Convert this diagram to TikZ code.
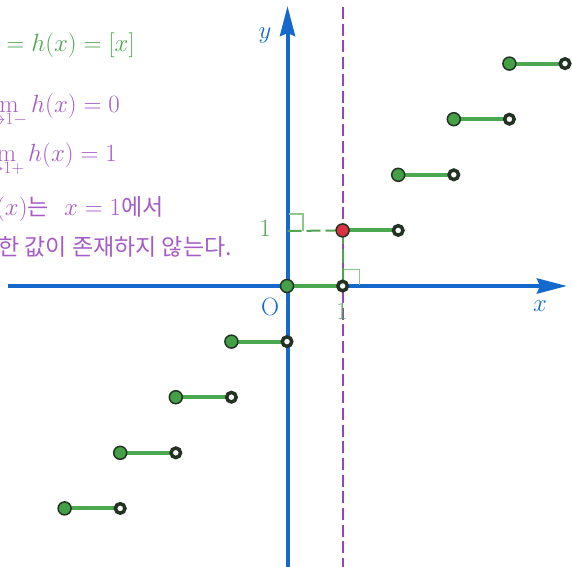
\documentclass[tikz,border=0pt]{standalone}
\usepackage{fontspec}
\newfontfamily\krfont{Noto Sans CJK KR}
\usetikzlibrary{arrows.meta}
\definecolor{axisblue}{RGB}{21,105,205}
\definecolor{ptgreen}{RGB}{67,160,71}
\definecolor{seggreen}{RGB}{76,168,80}
\definecolor{txtgreen}{RGB}{80,165,80}
\definecolor{txtpurple}{RGB}{165,92,198}
\definecolor{linepurple}{RGB}{150,70,185}
\definecolor{ringdark}{RGB}{35,50,35}
\definecolor{markgreen}{RGB}{140,200,140}
\definecolor{ptred}{RGB}{220,50,65}
\newcommand{\kr}[1]{{\krfont\fontsize{23}{27}\selectfont #1}}
\begin{document}
\begin{tikzpicture}[x=1pt,y=-1pt,
  axisline/.style={draw=axisblue,line width=4pt,-{Stealth[length=30pt,width=15pt,inset=3pt]}},
  closedpt/.style={circle,fill=ptgreen,draw=ringdark,line width=1.5pt,minimum size=13pt,inner sep=0pt},
  redpt/.style={closedpt,fill=ptred},
  openpt/.style={circle,fill=white,draw=ringdark,line width=3.5pt,minimum size=9.5pt,inner sep=0pt},
  seg/.style={draw=seggreen,line width=4pt},
  guide/.style={draw=txtgreen,line width=2pt,dash pattern=on 14pt off 5pt},
  vline/.style={draw=linepurple,line width=2pt,dash pattern=on 12pt off 4.7pt},
  rmark/.style={draw=markgreen,line width=1.5pt},
  lbl/.style={font=\fontsize{25}{30}\selectfont,inner sep=0pt},
]
\useasboundingbox (0,0) rectangle (572,566);
% axes
\coordinate (xs) at (8,286);
\coordinate (xe) at (567,286);
\coordinate (ys) at (287.5,570);
\coordinate (ye) at (287.5,6);
\draw[axisline] (xs) -- (xe);
\draw[axisline] (ys) -- (ye);
% vertical dashed line x=1
\coordinate (vt) at (343,7);
\coordinate (vb) at (343,570);
\draw[vline] (vt) -- (vb);
% step points
\foreach \k [count=\i] in {-4,...,4}{
  \pgfmathsetmacro\xa{287+55.6*\k}
  \pgfmathsetmacro\xb{287+55.6*(\k+1)}
  \pgfmathsetmacro\yy{286-55.6*\k}
  \coordinate (c\i) at (\xa,\yy);
  \coordinate (o\i) at (\xb,\yy);
}
\coordinate (Y1) at (287.5,231);
% right-angle marks
\draw[rmark] (288.5,214) -| (303,231);
\draw[rmark] (343,269.5) -| (359.5,285);
% guides
\draw[guide] (Y1) -- (c6);
\draw[guide] (c6) -- (o5);
% segments
\foreach \i in {1,...,9}{
  \draw[seg] (c\i) -- (o\i);
}
\foreach \i in {1,...,9}{
  \node[openpt] (q\i) at (o\i) {};
}
\foreach \i in {1,...,9}{
  \ifnum\i=6
    \node[redpt] (p\i) at (c\i) {};
  \else
    \node[closedpt] (p\i) at (c\i) {};
  \fi
}
% axis labels
\node[lbl,text=axisblue] (ylab) at (265,36) {$y$};
\node[lbl,text=axisblue] (xlab) at (540,306) {$x$};
\node[lbl,text=axisblue] (olab) at (270,307) {O};
\node[lbl,text=txtgreen] (onex) at (342,311) {1};
\node[lbl,text=txtgreen] (oney) at (265,228) {1};
% explanatory text
\node[lbl,text=txtgreen,anchor=base east] (t1) at (135,51) {$y = h(x) = [x]$};
\node[lbl,text=txtpurple,anchor=base east] (t2) at (120,112) {$\displaystyle\lim_{x\to1-} h(x) = 0$};
\node[lbl,text=txtpurple,anchor=base east] (t3) at (117,161) {$\displaystyle\lim_{x\to1+} h(x) = 1$};
\node[lbl,text=txtpurple,anchor=base east] (t4a) at (49,215) {$h(x)$\kr{는}};
\node[lbl,text=txtpurple,anchor=base west] (t4b) at (64,215) {$x = 1$\kr{에서}};
\node[lbl,text=txtpurple,anchor=base east] (t5) at (232,255) {\kr{극한 값이 존재하지 않는다.}};
\end{tikzpicture}
\end{document}
